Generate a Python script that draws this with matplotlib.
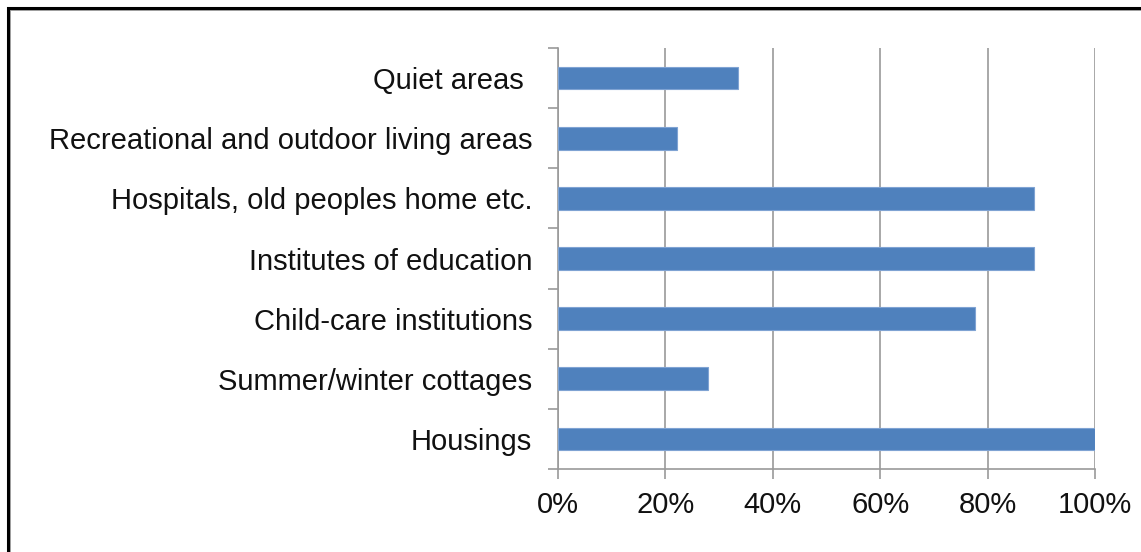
import matplotlib
matplotlib.use("Agg")
import matplotlib.pyplot as plt
from matplotlib.patches import Rectangle
from matplotlib.ticker import FuncFormatter

categories = ["Housings", "Summer/winter cottages", "Child-care institutions",
              "Institutes of education", "Hospitals, old peoples home etc.",
              "Recreational and outdoor living areas", "Quiet areas "]
values = [100, 28, 77.7, 88.7, 88.7, 22.2, 33.5]
xticks = [0, 20, 40, 60, 80, 100]

plt.rcParams['font.family'] = ['Liberation Sans', 'DejaVu Sans']

fig = plt.figure(figsize=(11.41, 5.52), dpi=100)
ax = fig.add_axes([558/1141, 1-469/552, 537/1141, 421/552])

y = list(range(len(categories)))
ax.barh(y, values, height=0.38, color="#4F81BD", edgecolor="#7FA3D3", linewidth=0.8, zorder=3)
ax.set_xlim(0, 100)
ax.set_ylim(-0.5, len(categories) - 0.5)
ax.set_xticks(xticks)
ax.xaxis.set_major_formatter(FuncFormatter(lambda v, p: f"{int(v)}%"))
ax.set_yticks(y)
ax.set_yticklabels(categories)
ax.set_yticks([i - 0.5 for i in range(len(categories) + 1)], minor=True)
ax.tick_params(axis='y', which='major', length=0, pad=18.7, labelsize=21, labelcolor="#111111")
ax.tick_params(axis='y', which='minor', length=7, width=1.2, color="#9A9A9A", direction='out')
ax.tick_params(axis='x', length=7, width=1.2, color="#9A9A9A", direction='out', pad=9, labelsize=21, labelcolor="#111111")
ax.grid(axis='x', color="#9A9A9A", linewidth=1.2, zorder=0)
for s in ['top', 'right']:
    ax.spines[s].set_visible(False)
for s in ['left', 'bottom']:
    ax.spines[s].set_color("#9A9A9A")
    ax.spines[s].set_linewidth(1.2)

# frame border (left and top visible)
fig.patches.append(Rectangle((9/1141, -0.05), 1.1, 1 - 9/552 + 0.05, transform=fig.transFigure,
                             fill=False, edgecolor="#999999", linewidth=2.0))
fig.patches.append(Rectangle((7.5/1141, -0.05), 1.1, 1 - 7.5/552 + 0.05, transform=fig.transFigure,
                             fill=False, edgecolor="black", linewidth=2.2))

fig.savefig("out.png", dpi=100)
